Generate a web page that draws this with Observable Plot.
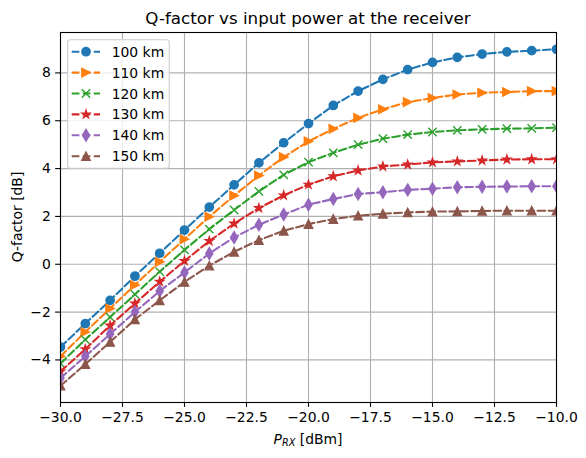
<!DOCTYPE html>
<html>
<head>
<meta charset="utf-8">
<script src="https://cdn.jsdelivr.net/npm/d3@7"></script>
<script src="https://cdn.jsdelivr.net/npm/@observablehq/plot@0.6"></script>
<style>
  html, body { margin: 0; padding: 0; background: white; }
  #chart { width: 586px; height: 458px; }
</style>
</head>
<body>
<div id="chart"></div>
<script>
// ---- data ----
const powerRx = [-30,-29,-28,-27,-26,-25,-24,-23,-22,-21,-20,-19,-18,-17,-16,-15,-14,-13,-12,-11,-10];
const q100 = [-3.46,-2.48,-1.51,-0.50,0.46,1.43,2.39,3.32,4.24,5.08,5.88,6.64,7.24,7.73,8.14,8.44,8.65,8.79,8.88,8.93,8.99];
const q110 = [-3.85,-2.83,-1.85,-0.87,0.10,1.05,1.99,2.87,3.71,4.48,5.14,5.66,6.12,6.48,6.78,6.95,7.10,7.17,7.20,7.24,7.24];
const q120 = [-4.15,-3.15,-2.21,-1.26,-0.31,0.60,1.47,2.27,3.05,3.74,4.27,4.66,5.00,5.25,5.42,5.53,5.60,5.64,5.67,5.68,5.71];
const q130 = [-4.48,-3.55,-2.56,-1.64,-0.73,0.14,0.97,1.70,2.35,2.88,3.33,3.68,3.92,4.09,4.17,4.26,4.30,4.34,4.38,4.39,4.39];
const q140 = [-4.76,-3.85,-2.92,-2.00,-1.12,-0.34,0.45,1.12,1.65,2.08,2.49,2.73,2.94,3.01,3.11,3.16,3.22,3.24,3.25,3.26,3.26];
const q150 = [-5.08,-4.18,-3.25,-2.31,-1.51,-0.74,-0.06,0.52,1.01,1.40,1.68,1.89,2.03,2.11,2.17,2.20,2.21,2.23,2.24,2.24,2.24];
const seriesLabels = ["100 km","110 km","120 km","130 km","140 km","150 km"];
const seriesValues = [q100, q110, q120, q130, q140, q150];
const seriesColors = ["#1f77b4","#ff7f0e","#2ca02c","#d62728","#9467bd","#8c564b"];
const xTicks = [-30,-27.5,-25,-22.5,-20,-17.5,-15,-12.5,-10];
const yTicks = [-4,-2,0,2,4,6,8];
const titleText = "Q-factor vs input power at the receiver";
const yLabelText = "Q-factor [dB]";

// ---- matplotlib-like marker symbols ----
const half = (size) => Math.sqrt(size / Math.PI);
const symCircle = {draw(c, size){ const s = half(size); c.moveTo(s,0); c.arc(0,0,s,0,2*Math.PI); c.closePath(); }};
const symTriRight = {draw(c, size){ const s = half(size); c.moveTo(s,0); c.lineTo(-s,s); c.lineTo(-s,-s); c.closePath(); }};
const symX = {draw(c, size){ const s = half(size); c.moveTo(-s,-s); c.lineTo(s,s); c.moveTo(-s,s); c.lineTo(s,-s); }};
const symStar = {draw(c, size){ const s = half(size); const ri = s*0.381966;
  for (let i=0;i<10;i++){ const r = i%2===0 ? s : ri; const a = -Math.PI/2 + i*Math.PI/5;
    const px = r*Math.cos(a), py = r*Math.sin(a); if(i===0) c.moveTo(px,py); else c.lineTo(px,py); }
  c.closePath(); }};
const symThinDiamond = {draw(c, size){ const s = half(size); const h = 1.414*s, w = 0.849*s;
  c.moveTo(0,-h); c.lineTo(w,0); c.lineTo(0,h); c.lineTo(-w,0); c.closePath(); }};
const symTriUp = {draw(c, size){ const s = half(size); c.moveTo(0,-s); c.lineTo(s,s); c.lineTo(-s,s); c.closePath(); }};
const seriesSymbols = [symCircle, symTriRight, symX, symStar, symThinDiamond, symTriUp];
const seriesFilled = [true, true, false, true, true, true];

const R = 4.17, MEW = 1.39, LW = 2.08, DASH = "7.7,3.33";

// ---- table ----
const table = [];
seriesLabels.forEach((lab, i) => powerRx.forEach((p, j) => table.push({series: lab, idx: i, p, q: seriesValues[i][j]})));

const seriesMarks = [];
seriesLabels.forEach((lab, i) => {
  const d = table.filter(r => r.idx === i);
  seriesMarks.push(Plot.line(d, {x: "p", y: "q", stroke: seriesColors[i], strokeWidth: LW, strokeDasharray: DASH, clip: "frame"}));
  seriesMarks.push(Plot.dot(d, {x: "p", y: "q", r: R, symbol: seriesSymbols[i],
    fill: seriesFilled[i] ? seriesColors[i] : "none", stroke: seriesColors[i], strokeWidth: MEW, clip: "frame"}));
});

const svg = Plot.plot({
  width: 586, height: 458,
  marginLeft: 60, marginRight: 30, marginTop: 32, marginBottom: 56,
  style: {fontFamily: "DejaVu Sans", fontSize: "13.9px", background: "white", color: "black"},
  x: {domain: [-30, -10]},
  y: {domain: [-5.78, 9.69]},
  marks: [
    Plot.gridX(xTicks, {stroke: "#b0b0b0", strokeOpacity: 1, strokeWidth: 1.11}),
    Plot.gridY(yTicks, {stroke: "#b0b0b0", strokeOpacity: 1, strokeWidth: 1.11}),
    ...seriesMarks,
    Plot.frame({stroke: "black", strokeWidth: 1.1}),
    Plot.axisX({ticks: xTicks, tickSize: 4.86, tickPadding: 4.86, tickFormat: d3.format(".1f"), label: null, strokeWidth: 1.1, fontSize: 13.9}),
    Plot.axisY({ticks: yTicks, tickSize: 4.86, tickPadding: 4.86, tickFormat: d3.format("d"), label: null, strokeWidth: 1.1, fontSize: 13.9})
  ]
});

const s = d3.select(svg);
const font = "DejaVu Sans";
// title
s.append("text").attr("x", 308).attr("y", 23.5).attr("text-anchor", "middle")
  .attr("font-family", font).attr("font-size", 16.7).attr("fill", "black").text(titleText);
// x label
const xl = s.append("text").attr("x", 308).attr("y", 444).attr("text-anchor", "middle")
  .attr("font-family", font).attr("font-size", 13.9).attr("fill", "black");
xl.append("tspan").attr("font-style", "italic").text("P");
xl.append("tspan").attr("font-style", "italic").attr("font-size", 9.7).attr("dy", 2.2).text("RX");
xl.append("tspan").attr("dy", -2.2).text(" [dBm]");
// y label
s.append("text").attr("transform", "translate(21.5,217) rotate(-90)").attr("text-anchor", "middle")
  .attr("font-family", font).attr("font-size", 13.9).attr("fill", "black").text(yLabelText);

// legend
const lg = s.append("g");
lg.append("rect").attr("x", 67.7).attr("y", 39.7).attr("width", 101.6).attr("height", 128.6)
  .attr("rx", 2.8).attr("fill", "white").attr("fill-opacity", 0.8).attr("stroke", "#cccccc").attr("stroke-width", 1.1);
seriesLabels.forEach((lab, i) => {
  const cy = 51.7 + i * 20.9;
  lg.append("line").attr("x1", 71.7).attr("x2", 100).attr("y1", cy).attr("y2", cy)
    .attr("stroke", seriesColors[i]).attr("stroke-width", LW).attr("stroke-dasharray", DASH);
  const p = d3.path();
  seriesSymbols[i].draw(p, Math.PI * R * R);
  lg.append("path").attr("d", p.toString()).attr("transform", `translate(86,${cy})`)
    .attr("fill", seriesFilled[i] ? seriesColors[i] : "none").attr("stroke", seriesColors[i]).attr("stroke-width", MEW);
  lg.append("text").attr("x", 111.7).attr("y", cy).attr("dy", "0.36em").attr("text-anchor", "start")
    .attr("font-family", font).attr("font-size", 13.9).attr("fill", "black").text(lab);
});

document.getElementById("chart").appendChild(svg);
</script>
</body>
</html>
